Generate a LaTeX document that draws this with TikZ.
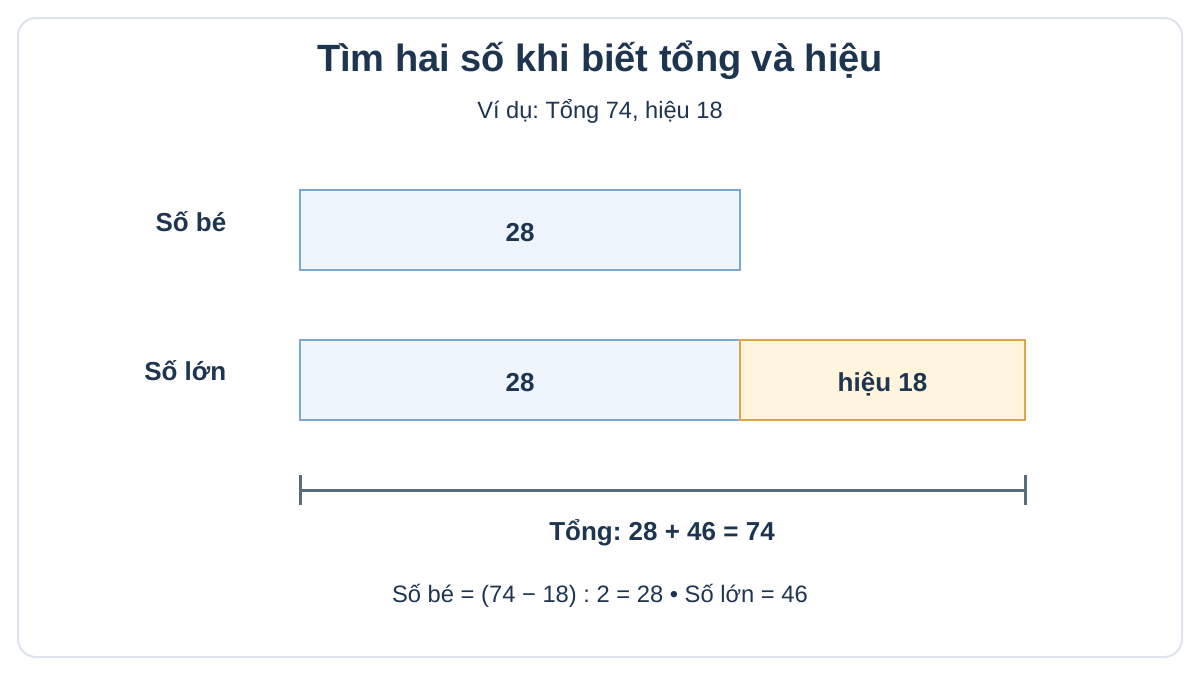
\documentclass[tikz,border=0pt]{standalone}
\usepackage{fontspec}
\setmainfont{Liberation Sans}
\usetikzlibrary{positioning}
\frenchspacing
\definecolor{ink}{HTML}{1E3552}
\definecolor{framecol}{HTML}{DDE4EE}
\definecolor{partfill}{HTML}{EEF5FC}
\definecolor{partline}{HTML}{7BA7D6}
\definecolor{difffill}{HTML}{FFF4DC}
\definecolor{diffline}{HTML}{DBA548}
\definecolor{rulecol}{HTML}{5A6B7D}
\tikzset{
  part/.style={draw=partline,fill=partfill,line width=1.8pt,minimum width=330pt,minimum height=60pt,anchor=north west,inner sep=0pt,outer sep=0pt,text height=1.65em,text depth=0pt,text=ink,font=\bfseries\fontsize{19.5}{23}\selectfont},
  diffpart/.style={part,draw=diffline,fill=difffill,minimum width=213.75pt},
  rowlabel/.style={anchor=east,text=ink,font=\bfseries\fontsize{19.5}{23}\selectfont},
}
\begin{document}
\begin{tikzpicture}[x=0.75pt,y=-0.75pt]
          \useasboundingbox (0,0) rectangle (1200,675);
          \draw[framecol,line width=1.5pt,rounded corners=13.5pt,fill=white] (18,18) rectangle (1182,657);
          \node[text=ink,font=\bfseries\fontsize{28.5}{33}\selectfont] (title) at (600,60) {Tìm hai số khi biết tổng và hiệu};
          \node[text=ink,font=\fontsize{17.7}{21}\selectfont] (sub) at (600,111) {Ví dụ: Tổng 74, hiệu 18};
          % so be
          \node[rowlabel] (labbe) at (231,222) {Số bé};
          \node[part] (be) at (300,190) {28};
          % so lon
          \node[rowlabel] (lablon) at (231,371) {Số lớn};
          \node[part] (lon) at (300,340) {28};
          \node[diffpart] (hieu) at (lon.north east) {hiệu 18};
          % tong
          \coordinate (tl) at (300,490);
          \coordinate (tr) at (1025,490);
          \draw[rulecol,line width=2.25pt] (tl) -- (tr);
          \draw[rulecol,line width=2.25pt] (tl) ++(0,-15) -- ++(0,30);
          \draw[rulecol,line width=2.25pt] (tr) ++(0,-15) -- ++(0,30);
          \node[text=ink,font=\bfseries\fontsize{19.5}{23}\selectfont] (tong) at (662,533) {Tổng: 28 + 46 = 74};
          \node[text=ink,font=\fontsize{17.8}{21}\selectfont] (calc) at (600,596) {Số bé = (74 − 18) : 2 = 28 • Số lớn = 46};
\end{tikzpicture}
\end{document}
